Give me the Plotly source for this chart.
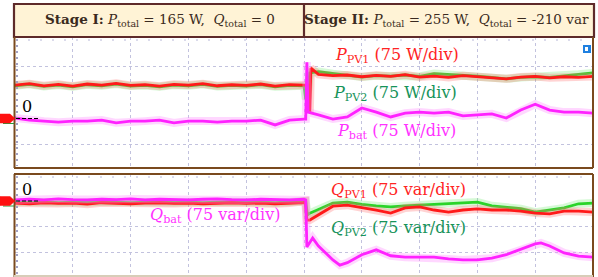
import plotly.graph_objects as go

# ---------------- data (time in scope divisions, values in W / var) -------------
t_s1 = [0, 0.25, 0.5, 0.75, 1, 1.25, 1.5, 1.75, 2, 2.25, 2.5, 2.75, 3, 3.25, 3.5,
        3.75, 4, 4.25, 4.5, 4.75, 5.0]
t_s2 = [5.25, 5.5, 5.75, 6, 6.25, 6.5, 6.75, 7, 7.25, 7.5, 7.75, 8, 8.25, 8.5,
        8.75, 9, 9.25, 9.5, 9.75, 10]

# top panel: active power
p_pv1_t = t_s1 + [5.08, 5.1, 5.12] + t_s2
p_pv1 = [95, 99, 93, 97, 92, 98, 95, 100, 94, 96, 92, 97, 95, 99, 93, 96, 94, 98, 92, 96, 95,
         95, 17, 144,
         126, 122, 124, 119, 123, 120, 125, 118, 121, 117, 122, 119, 116, 113, 118, 120, 116, 119, 117, 120]

p_pv2_t = t_s1 + [5.03, 5.06, 5.1] + t_s2
p_pv2 = [93, 97, 91, 95, 90, 96, 93, 98, 92, 94, 90, 95, 93, 97, 91, 94, 92, 96, 90, 94, 93,
         55, 60, 130,
         134, 128, 124, 118, 122, 121, 124, 120, 128, 126, 124, 121, 117, 113, 117, 119, 117, 122, 126, 130]

p_bat_t = t_s1 + [5.03, 5.05, 5.07] + t_s2
p_bat = [0, -6, -9, -12, -9, -9, -6, -14, -9, -9, -6, -14, -9, -9, -12, -9, -9, -6, -20, -6, -3,
         -3, 161, 17,
         9, -3, 3, 29, 17, 3, 14, 17, 14, 17, 6, 9, 12, 0, 23, 40, 23, 17, 17, 14]

# bottom panel: reactive power
q_s2_t = [5.2, 5.5, 5.75, 6, 6.25, 6.5, 6.75, 7, 7.25, 7.5, 7.75, 8, 8.25, 8.5,
          8.75, 9, 9.25, 9.5, 9.75, 10]

q_bat_t = t_s1 + [5.03, 5.05, 5.15] + [5.25, 5.5, 5.62, 5.75, 6.0, 6.25, 6.5, 6.75, 7.0, 7.25,
                                       7.5, 7.75, 8.0, 8.25, 8.5, 8.75, 9.0, 9.1, 9.25, 9.5, 9.75, 10]
q_bat = [3, 5, 3, 6, 4, 3, 5, 4, 6, 3, 5, 4, 3, 5, 6, 4, 3, 5, 4, 3, 5,
         3, -133, -107,
         -130, -170, -185, -178, -155, -141, -158, -162, -162, -162, -167, -170, -170, -165,
         -155, -140, -124, -121, -130, -150, -159, -162]

q_pv1_t = t_s1 + [5.02, 5.05, 5.1] + q_s2_t
q_pv1 = [-6, -8, -5, -7, -6, -9, -5, -6, -8, -6, -5, -7, -6, -8, -6, -5, -7, -6, -8, -6, -5,
         0, -55, -55,
         -45, -15, -12, -18, -26, -35, -20, -17, -26, -32, -26, -23, -26, -26, -29, -35, -37, -29, -29, -32]

q_pv2_t = t_s1 + [5.03, 5.06, 5.1] + q_s2_t
q_pv2 = [-3, -4, -2, -5, -3, -4, -2, -3, -5, -3, -2, -4, -3, -5, -3, -2, -4, -3, -5, -3, -2,
         0, -40, -35,
         -28, -6, -3, -10, -14, -17, -14, -12, -8, -6, -5, -3, -14, -18, -22, -32, -26, -20, -8, -6]

stage_titles = ["<b>Stage I:</b> <i>P</i><sub>total</sub> = 165 W,  <i>Q</i><sub>total</sub> = 0",
                "<b>Stage II:</b> <i>P</i><sub>total</sub> = 255 W,  <i>Q</i><sub>total</sub> = -210 var"]

# ---------------- figure ----------------
W, H = 598, 277
def X(px): return px / W
def Y(py): return 1 - py / H

RED, GREEN, MAG = "#ff1a1a", "#2ad42a", "#ff22ff"
RED_H, GREEN_H, MAG_H = "rgba(255,110,110,0.30)", "rgba(90,230,90,0.25)", "rgba(255,140,255,0.35)"

fig = go.Figure()

def add(tx, ty, col, halo, xa, ya):
    fig.add_trace(go.Scatter(x=tx, y=ty, mode="lines", line=dict(color=halo, width=8),
                             xaxis=xa, yaxis=ya, hoverinfo="skip", showlegend=False))
    fig.add_trace(go.Scatter(x=tx, y=ty, mode="lines", line=dict(color=col, width=2.8),
                             xaxis=xa, yaxis=ya, showlegend=False))

add(p_pv2_t, p_pv2, GREEN, GREEN_H, "x", "y")
add(p_pv1_t, p_pv1, RED, RED_H, "x", "y")
add(p_bat_t, p_bat, MAG, MAG_H, "x", "y")
add(q_pv2_t, q_pv2, GREEN, GREEN_H, "x2", "y2")
add(q_pv1_t, q_pv1, RED, RED_H, "x2", "y2")
add(q_bat_t, q_bat, MAG, MAG_H, "x2", "y2")

GRID = "#c2c2de"
xa = dict(range=[0, 10], showticklabels=False, zeroline=False, showline=False, ticks="",
          tickvals=[1, 2, 3, 4, 5, 6, 7, 8, 9], showgrid=True, gridcolor=GRID, griddash="dot",
          gridwidth=1, fixedrange=True)
fig.update_layout(
    width=W, height=H, margin=dict(l=0, r=0, t=0, b=0), autosize=False,
    paper_bgcolor="white", plot_bgcolor="white",
    xaxis=dict(xa, domain=[X(15), X(593)], anchor="y"),
    yaxis=dict(domain=[Y(168), Y(37)], range=[-144.25, 233.7], showticklabels=False,
               zeroline=False, tickvals=[-75, 150], showgrid=True, gridcolor=GRID,
               griddash="dot", anchor="x", fixedrange=True),
    xaxis2=dict(xa, domain=[X(15), X(593)], anchor="y2"),
    yaxis2=dict(domain=[Y(277), Y(174)], range=[-219.3, 77.9], showticklabels=False,
                zeroline=False, tickvals=[-75, -150], showgrid=True, gridcolor=GRID,
                griddash="dot", anchor="x2", fixedrange=True),
)

BROWN = "#7a4a1e"
HDR = "#5e2a2a"
shapes = []
# header
shapes.append(dict(type="rect", xref="paper", yref="paper", x0=X(14), x1=X(594), y0=Y(37), y1=Y(4),
                   fillcolor="#fff3d6", line=dict(color=HDR, width=2.2), layer="above"))
shapes.append(dict(type="line", xref="paper", yref="paper", x0=X(304), x1=X(304), y0=Y(37), y1=Y(4),
                   line=dict(color=HDR, width=2.2)))
# panel borders
for (top, bot) in [(37, 168), (174, 277)]:
    shapes.append(dict(type="line", xref="paper", yref="paper", x0=X(14.5), x1=X(14.5), y0=Y(top), y1=Y(bot),
                       line=dict(color=BROWN, width=2)))
    shapes.append(dict(type="line", xref="paper", yref="paper", x0=X(593), x1=X(593), y0=Y(top), y1=Y(bot),
                       line=dict(color=BROWN, width=2)))
    shapes.append(dict(type="line", xref="paper", yref="paper", x0=X(17), x1=X(17), y0=Y(top + 2), y1=Y(bot - 2),
                       line=dict(color="#a0a0c4", width=2, dash="2px,4px")))
    shapes.append(dict(type="line", xref="paper", yref="paper", x0=X(16), x1=X(592), y0=Y(top + 3), y1=Y(top + 3),
                       line=dict(color="#b8b8d8", width=1, dash="2px,10px")))
shapes.append(dict(type="line", xref="paper", yref="paper", x0=X(14), x1=X(593), y0=Y(168), y1=Y(168),
                   line=dict(color=BROWN, width=2)))
shapes.append(dict(type="line", xref="paper", yref="paper", x0=X(14), x1=X(593), y0=Y(174), y1=Y(174),
                   line=dict(color=BROWN, width=2)))
shapes.append(dict(type="line", xref="paper", yref="paper", x0=X(14), x1=X(593), y0=Y(276), y1=Y(276),
                   line=dict(color="#d8cdb8", width=2)))
# ground markers + dashed zero lines
for zy in (118.5, 201):
    path = "M {} {} L {} {} L {} {} L {} {} L {} {} Z".format(
        X(0), Y(zy - 4.5), X(10), Y(zy - 4.5), X(15), Y(zy), X(10), Y(zy + 4.5), X(0), Y(zy + 4.5))
    shapes.append(dict(type="line", xref="paper", yref="paper", x0=X(3), x1=X(14), y0=Y(zy + 5), y1=Y(zy + 5),
                       line=dict(color="#2a9a3a", width=1)))
    shapes.append(dict(type="path", xref="paper", yref="paper", path=path, fillcolor="#ff1010",
                       line=dict(color="#ff1010", width=0.5)))
    shapes.append(dict(type="line", xref="paper", yref="paper", x0=X(16), x1=X(38), y0=Y(zy), y1=Y(zy),
                       line=dict(color="black", width=1, dash="4px,2px")))
# trigger icon
shapes.append(dict(type="rect", xref="paper", yref="paper", x0=X(583), x1=X(591), y0=Y(53), y1=Y(45),
                   fillcolor="#1f80e0", line=dict(width=0)))
shapes.append(dict(type="rect", xref="paper", yref="paper", x0=X(585), x1=X(588), y0=Y(51), y1=Y(47),
                   fillcolor="white", line=dict(width=0)))
fig.update_layout(shapes=shapes)

FONT = "DejaVu Serif"
ann = []
ann.append(dict(text=stage_titles[0], x=X(160), y=Y(20.5), font=dict(size=13.5, color="#3a2a20", family=FONT)))
ann.append(dict(text=stage_titles[1], x=X(447), y=Y(20.5), font=dict(size=13.5, color="#3a2a20", family=FONT)))
lab = [("<i>P</i><sub>PV1</sub> (75 W/div)", 397, 56, "#ff2424"),
       ("<i>P</i><sub>PV2</sub> (75 W/div)", 395, 93, "#17935a"),
       ("<i>P</i><sub>bat</sub> (75 W/div)", 396, 131, "#ff33ff"),
       ("<i>Q</i><sub>PV1</sub> (75 var/div)", 398, 190, "#ff2424"),
       ("<i>Q</i><sub>PV2</sub> (75 var/div)", 398, 228, "#17935a"),
       ("<i>Q</i><sub>bat</sub> (75 var/div)", 215, 215, "#ff33ff"),
       ("0", 27, 106, "black"),
       ("0", 27, 189, "black")]
for txt, lx, ly, c in lab:
    ann.append(dict(text=txt, x=X(lx), y=Y(ly), font=dict(size=16, color=c, family=FONT)))
for a in ann:
    a.update(xref="paper", yref="paper", showarrow=False, xanchor="center", yanchor="middle")
fig.update_layout(annotations=ann)

fig.write_html("out.html", config={"displayModeBar": False},
               post_script="document.body.style.margin='0';document.body.style.padding='0';")
